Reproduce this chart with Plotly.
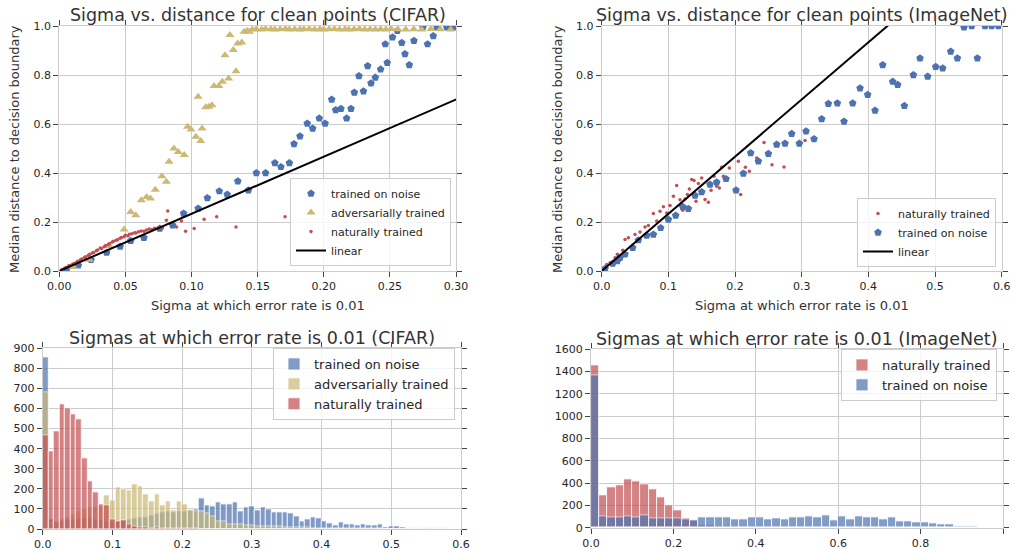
import numpy as np
import plotly.graph_objects as go

W, H = 1011, 550

BLUE = "#4C72B0"
GOLD = "#CCB974"
RED = "#C44E52"
TXT = "#262626"
GRID = "#cccccc"

# ---- CIFAR scatter: sigma vs median distance ----
cifar_noise_x = [0.0055, 0.0144, 0.024, 0.0358, 0.046, 0.054, 0.064, 0.076, 0.0857, 0.094,
                 0.105, 0.112, 0.121, 0.127, 0.135, 0.143, 0.149, 0.156, 0.163, 0.1676,
                 0.174, 0.1775, 0.182, 0.1875, 0.1916, 0.1966, 0.201, 0.206, 0.209, 0.213,
                 0.2173, 0.2206, 0.2231, 0.2266, 0.23, 0.2332, 0.2357, 0.239, 0.243, 0.248,
                 0.2465, 0.252, 0.2556, 0.259, 0.2614, 0.2647, 0.2682, 0.2785, 0.2828, 0.275,
                 0.2856, 0.293, 0.298]
cifar_noise_y = [0.005, 0.023, 0.046, 0.075, 0.10, 0.123, 0.136, 0.173, 0.187, 0.235,
                 0.255, 0.298, 0.326, 0.312, 0.366, 0.33, 0.40, 0.40, 0.441, 0.425,
                 0.441, 0.518, 0.55, 0.602, 0.582, 0.623, 0.602, 0.70, 0.657, 0.662,
                 0.623, 0.662, 0.729, 0.796, 0.734, 0.837, 0.766, 0.79, 0.823, 0.85,
                 0.926, 0.954, 0.981, 0.932, 0.886, 0.841, 0.94, 0.926, 0.959, 0.995,
                 0.995, 0.995, 0.995]

cifar_adv_x = [0.0106, 0.0227, 0.0378, 0.049, 0.054, 0.0578, 0.062, 0.066, 0.069, 0.0726,
               0.0776, 0.081, 0.083, 0.0867, 0.09, 0.0945, 0.097, 0.0996, 0.1033, 0.107,
               0.108, 0.105, 0.1107, 0.113, 0.1154, 0.117, 0.1207, 0.1233, 0.128, 0.1253,
               0.1316, 0.1336, 0.1349, 0.138, 0.129, 0.1397, 0.142, 0.1437,
               0.146, 0.149, 0.153, 0.156, 0.160, 0.163, 0.167, 0.171, 0.174, 0.178,
               0.182, 0.185, 0.189, 0.193, 0.197, 0.2, 0.204, 0.208, 0.212, 0.216,
               0.219, 0.223, 0.227, 0.231, 0.235, 0.239, 0.243, 0.247, 0.251, 0.256,
               0.262, 0.268, 0.274, 0.281, 0.288, 0.296]
cifar_adv_y = [0.016, 0.046, 0.102, 0.169, 0.241, 0.228, 0.289, 0.302, 0.296, 0.332,
               0.387, 0.364, 0.446, 0.50, 0.486, 0.473, 0.589, 0.578, 0.548, 0.531,
               0.582, 0.711, 0.668, 0.670, 0.677, 0.755, 0.755, 0.772, 0.786, 0.881,
               0.902, 0.815, 0.929, 0.933, 0.963, 0.977, 0.981, 0.977,
               0.986, 0.987, 0.986, 0.988, 0.987, 0.986, 0.987, 0.988, 0.986, 0.987,
               0.986, 0.987, 0.988, 0.986, 0.987, 0.986, 0.987, 0.988, 0.986, 0.987,
               0.986, 0.987, 0.988, 0.986, 0.987, 0.986, 0.987, 0.986, 0.988, 0.987,
               0.986, 0.987, 0.986, 0.988, 0.987, 0.986]

cifar_nat_x = [0.002, 0.004, 0.005, 0.007, 0.008, 0.010, 0.011, 0.013, 0.014, 0.016,
               0.017, 0.019, 0.020, 0.022, 0.023, 0.025, 0.026, 0.028, 0.029, 0.031,
               0.032, 0.034, 0.035, 0.037, 0.038, 0.040, 0.041, 0.043, 0.044, 0.046,
               0.047, 0.049, 0.050, 0.052, 0.053, 0.055, 0.057, 0.058, 0.060, 0.062,
               0.064, 0.066, 0.068, 0.070, 0.072, 0.075, 0.078, 0.081, 0.082, 0.0887,
               0.0924, 0.0955, 0.102, 0.1095, 0.119, 0.1336, 0.1707]
cifar_nat_y = [0.006, 0.011, 0.014, 0.020, 0.022, 0.028, 0.031, 0.036, 0.040, 0.046,
               0.049, 0.055, 0.058, 0.064, 0.068, 0.073, 0.076, 0.083, 0.086, 0.094,
               0.092, 0.099, 0.104, 0.108, 0.112, 0.118, 0.121, 0.126, 0.128, 0.134,
               0.137, 0.140, 0.146, 0.143, 0.150, 0.152, 0.156, 0.155, 0.160, 0.163,
               0.162, 0.167, 0.171, 0.169, 0.174, 0.178, 0.176, 0.207, 0.245, 0.18,
               0.204, 0.162, 0.173, 0.211, 0.221, 0.18, 0.221]

linear_x = [0.0, 0.6]
linear_y = [0.0, 1.40]

# ---- ImageNet scatter ----
inet_noise_x = [0.005, 0.0165, 0.0235, 0.0275, 0.035, 0.0465, 0.055, 0.0675, 0.0775, 0.0885,
                0.1, 0.111, 0.1215, 0.13, 0.14, 0.15, 0.1625, 0.1725, 0.1865, 0.2015,
                0.2125, 0.2235, 0.235, 0.25, 0.2625, 0.275, 0.285, 0.2965, 0.3065, 0.3185,
                0.33, 0.34, 0.3535, 0.3635, 0.3765, 0.3875, 0.399, 0.41, 0.4215, 0.4365,
                0.444, 0.454, 0.4675, 0.4775, 0.489, 0.501, 0.5115, 0.5235, 0.5335, 0.5435,
                0.555, 0.5635, 0.575, 0.585, 0.595]
inet_noise_y = [0.0095, 0.031, 0.041, 0.054, 0.068, 0.095, 0.126, 0.145, 0.149, 0.176,
                0.21, 0.227, 0.262, 0.254, 0.308, 0.322, 0.353, 0.362, 0.376, 0.33,
                0.398, 0.482, 0.448, 0.479, 0.516, 0.52, 0.56, 0.52, 0.57, 0.539,
                0.62, 0.683, 0.685, 0.61, 0.685, 0.746, 0.719, 0.655, 0.841, 0.773,
                0.76, 0.674, 0.80, 0.868, 0.794, 0.834, 0.828, 0.896, 0.868, 0.995,
                1.0, 0.868, 1.0, 1.0, 1.0]

inet_nat_x = [0.0075, 0.0125, 0.02, 0.0235, 0.0315, 0.035, 0.04, 0.05, 0.0575, 0.065,
              0.07, 0.0775, 0.0825, 0.0875, 0.0925, 0.0975, 0.1025, 0.1075, 0.1125, 0.1175,
              0.1215, 0.125, 0.1285, 0.1315, 0.135, 0.1385, 0.1415, 0.145, 0.15, 0.155,
              0.16, 0.164, 0.1685, 0.1725, 0.1765, 0.18, 0.1825, 0.1915, 0.205, 0.2085,
              0.2155, 0.2215, 0.2325, 0.2435, 0.2555, 0.2735, 0.305]
inet_nat_y = [0.027, 0.034, 0.054, 0.068, 0.085, 0.129, 0.136, 0.149, 0.159, 0.18,
              0.186, 0.235, 0.204, 0.244, 0.262, 0.237, 0.267, 0.305, 0.349, 0.291,
              0.248, 0.294, 0.312, 0.335, 0.373, 0.369, 0.285, 0.357, 0.38, 0.292,
              0.281, 0.33, 0.387, 0.346, 0.339, 0.423, 0.387, 0.42, 0.448, 0.312,
              0.423, 0.407, 0.461, 0.525, 0.434, 0.425, 0.533]

# ---- CIFAR histogram counts (bin width 0.008, 0 .. 0.6) ----
cifar_bin = 0.008
cifar_hist_noise = [857, 50, 35, 40, 45, 50, 55, 55, 60, 50, 45, 40,
                    35, 40, 45, 50, 55, 58, 60, 70, 80, 85, 88, 85, 90,
                    90, 95, 100,
                    153, 119, 114, 131, 124, 124, 131, 86,
                    108, 114, 95, 108, 98, 85, 83, 81, 78, 65, 40, 48, 56, 55, 40, 28, 20,
                    33, 25, 22, 20, 22, 18, 18, 22, 10, 15, 15, 8, 5, 5, 3, 2, 5, 2, 3, 2, 1, 0]
cifar_hist_adv = [680, 35, 40, 50, 60, 75, 90, 100, 110, 115, 115,
                  169, 141, 206, 197, 191, 224, 211, 174, 139, 172, 119, 139, 95, 139, 123,
                  95, 90, 86, 78, 61, 36, 36, 23, 23, 23,
                  20, 18, 15, 15, 14, 12, 12, 10, 10, 8,
                  8, 8, 6, 6, 5, 5, 4, 4, 3, 3,
                  3, 2, 2, 2, 2, 1, 1, 1, 1, 1,
                  1, 1, 6, 2, 1, 0, 0, 0, 0]
cifar_hist_nat = [468, 389, 485, 620, 603, 570, 548, 352, 238, 183, 123, 116,
                  50, 40, 45, 25, 12, 8, 10, 6, 8, 5, 5, 3, 5, 4, 2, 2, 1, 1, 1,
                  0, 0, 0, 0, 0, 0, 0, 0, 0, 0, 0, 0, 0, 0, 0, 0, 0, 0, 0, 0, 0,
                  0, 0, 0, 0, 0, 0, 0, 0, 0, 0, 0, 0, 0, 0, 0, 0, 0, 0, 0, 0, 0, 0, 0]

# ---- ImageNet histogram counts (bin width 0.02, 0 .. 1.0) ----
inet_bin = 0.02
inet_hist_nat = [1461, 293, 359, 377, 434, 413, 386, 347, 272, 198, 159, 82, 68,
                 20, 18, 15, 12, 5, 3, 2, 1, 1, 0, 0, 0,
                 0, 0, 0, 0, 0, 0, 0, 0, 0, 0, 0, 0, 0, 0, 0, 0, 0, 0, 0, 0, 0, 0, 0, 0, 0]
inet_hist_noise = [1370, 99, 92, 92, 100, 92, 108, 82, 82, 82, 82, 78, 70,
                   90, 90, 90, 90, 78, 78, 90, 90, 78, 84, 78,
                   90, 90, 99, 90, 108, 69, 99, 78, 99, 90,
                   90, 78, 90, 60, 60, 48, 48, 39, 33, 30,
                   15, 15, 15, 6, 5, 3]


def centers(counts, width):
    return np.arange(len(counts)) * width + width / 2


def px(x, y):
    return x / W, 1 - y / H


fig = go.Figure()

# top-left
fig.add_trace(go.Scatter(x=cifar_noise_x, y=cifar_noise_y, mode="markers", name="trained on noise",
                         marker=dict(symbol="pentagon", size=8, color=BLUE), xaxis="x", yaxis="y", legend="legend"))
fig.add_trace(go.Scatter(x=cifar_adv_x, y=cifar_adv_y, mode="markers", name="adversarially trained",
                         marker=dict(symbol="triangle-up", size=8, color=GOLD), xaxis="x", yaxis="y", legend="legend"))
fig.add_trace(go.Scatter(x=cifar_nat_x, y=cifar_nat_y, mode="markers", name="naturally trained",
                         marker=dict(symbol="circle", size=3.5, color=RED), xaxis="x", yaxis="y", legend="legend"))
fig.add_trace(go.Scatter(x=linear_x, y=linear_y, mode="lines", name="linear",
                         line=dict(color="black", width=2), xaxis="x", yaxis="y", legend="legend"))

# top-right
fig.add_trace(go.Scatter(x=inet_nat_x, y=inet_nat_y, mode="markers", name="naturally trained",
                         marker=dict(symbol="circle", size=3.5, color=RED), xaxis="x2", yaxis="y2", legend="legend2"))
fig.add_trace(go.Scatter(x=inet_noise_x, y=inet_noise_y, mode="markers", name="trained on noise",
                         marker=dict(symbol="pentagon", size=8, color=BLUE), xaxis="x2", yaxis="y2", legend="legend2"))
fig.add_trace(go.Scatter(x=linear_x, y=linear_y, mode="lines", name="linear",
                         line=dict(color="black", width=2), xaxis="x2", yaxis="y2", legend="legend2"))

# bottom-left histogram
for name, counts, col in [("trained on noise", cifar_hist_noise, BLUE),
                          ("adversarially trained", cifar_hist_adv, GOLD),
                          ("naturally trained", cifar_hist_nat, RED)]:
    fig.add_trace(go.Bar(x=centers(counts, cifar_bin), y=counts, width=cifar_bin, name=name,
                         marker=dict(color=col, line=dict(color="white", width=0.8)), opacity=0.7,
                         xaxis="x3", yaxis="y3", legend="legend3"))

# bottom-right histogram
for name, counts, col in [("naturally trained", inet_hist_nat, RED),
                          ("trained on noise", inet_hist_noise, BLUE)]:
    fig.add_trace(go.Bar(x=centers(counts, inet_bin), y=counts, width=inet_bin, name=name,
                         marker=dict(color=col, line=dict(color="white", width=0.8)), opacity=0.7,
                         xaxis="x4", yaxis="y4", legend="legend4"))


def ax(domain, rng, dtick, fmt, anchor):
    return dict(domain=domain, range=rng, dtick=dtick, tick0=0, tickformat=fmt, anchor=anchor,
                automargin=False,
                showgrid=True, gridcolor=GRID, gridwidth=1, zeroline=False,
                showline=True, linecolor=GRID, linewidth=1, mirror="allticks",
                ticks="outside", ticklen=5, tickcolor="#444", tickwidth=1,
                tickfont=dict(size=11, color=TXT, family="DejaVu Sans"))


tl_x = [59.3 / W, 456 / W]
tr_x = [601.7 / W, 1001.7 / W]
top_y = [1 - 271 / H, 1 - 26 / H]
bl_x = [42.7 / W, 461 / W]
br_x = [591 / W, 1003 / W]
bl_y = [1 - 529 / H, 1 - 348.3 / H]
br_y = [1 - 527.7 / H, 1 - 349.3 / H]

legend_common = dict(bgcolor="rgba(255,255,255,0.8)", bordercolor=GRID, borderwidth=1,
                     xanchor="right", yanchor="bottom", tracegroupgap=0)

fig.update_layout(
    width=W, height=H, margin=dict(l=0, r=0, t=0, b=0),
    paper_bgcolor="white", plot_bgcolor="white",
    font=dict(family="DejaVu Sans", color=TXT),
    barmode="overlay", bargap=0,
    xaxis=ax(tl_x, [0, 0.3], 0.05, ".2f", "y"),
    yaxis=ax(top_y, [0, 1.0], 0.2, ".1f", "x"),
    xaxis2=ax(tr_x, [0, 0.6], 0.1, ".1f", "y2"),
    yaxis2=ax(top_y, [0, 1.0], 0.2, ".1f", "x2"),
    xaxis3=ax(bl_x, [0, 0.6], 0.1, ".1f", "y3"),
    yaxis3=ax(bl_y, [0, 900], 100, "d", "x3"),
    xaxis4=ax(br_x, [0, 1.0], 0.2, ".1f", "y4"),
    yaxis4=ax(br_y, [0, 1600], 200, "d", "x4"),
    legend=dict(x=451 / W, y=1 - 266 / H, font=dict(size=11), **legend_common),
    legend2=dict(x=996 / W, y=1 - 267 / H, font=dict(size=11), **legend_common),
    legend3=dict(x=455 / W, y=1 - 420 / H, font=dict(size=13), **legend_common),
    legend4=dict(x=997 / W, y=1 - 401 / H, font=dict(size=13), **legend_common),
)

titles = [
    ("Sigma vs. distance for clean points (CIFAR)", 257.5, 15),
    ("Sigma vs. distance for clean points (ImageNet)", 801.5, 15),
    ("Sigmas at which error rate is 0.01 (CIFAR)", 252, 338),
    ("Sigmas at which error rate is 0.01 (ImageNet)", 797, 339),
]
for text, x, y in titles:
    px_, py_ = px(x, y)
    fig.add_annotation(text=text, x=px_, y=py_, xref="paper", yref="paper", showarrow=False,
                       xanchor="center", yanchor="middle", font=dict(size=17.5, color="#333"))

axis_titles = [
    ("Sigma at which error rate is 0.01", 257.5, 305, 0),
    ("Sigma at which error rate is 0.01", 801.5, 305, 0),
    ("Median distance to decision boundary", 14, 149, -90),
    ("Median distance to decision boundary", 557, 149, -90),
]
for text, x, y, ang in axis_titles:
    px_, py_ = px(x, y)
    fig.add_annotation(text=text, x=px_, y=py_, xref="paper", yref="paper", showarrow=False,
                       xanchor="center", yanchor="middle", textangle=ang,
                       font=dict(size=13, color="#333"))

# remove the default page margin so the figure sits at the window's top-left corner
fig.write_html("out.html", config={"displayModeBar": False},
               post_script="document.body.style.margin='0';")
